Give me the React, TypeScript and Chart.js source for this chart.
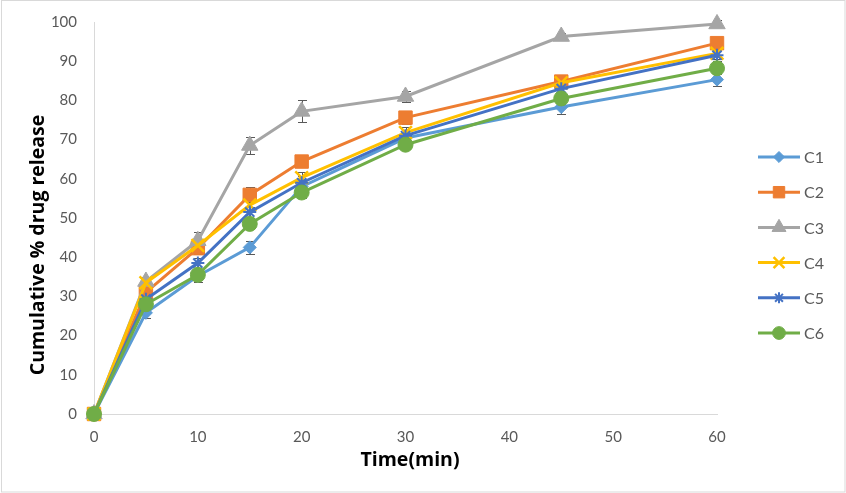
import React, { useEffect, useRef } from "react";
import { Chart, registerables } from "chart.js";
import { drawPoint } from "chart.js/helpers";

Chart.register(...registerables);

const times = [0, 5, 10, 15, 20, 30, 45, 60];
const seriesNames = ["C1", "C2", "C3", "C4", "C5", "C6"];
const c1 = [0, 25.8, 35.2, 42.5, 58, 70.4, 78.3, 85.3];
const c2 = [0, 31, 42.3, 55.9, 64.4, 75.6, 84.8, 94.6];
const c3 = [0, 33.8, 44.2, 68.5, 77.2, 81, 96.3, 99.5];
const c4 = [0, 33.5, 43, 53.3, 60.3, 71.8, 84.5, 92];
const c5 = [0, 29.3, 38.5, 51.5, 59, 71, 83, 91.5];
const c6 = [0, 28, 35.5, 48.5, 56.5, 68.7, 80.5, 88.2];
const e1 = [0, 1.4, 1.4, 1.7, 1.4, 1.4, 1.8, 1.7];
const e2 = [0, 1.4, 1.4, 1.9, 1.4, 1.7, 1.7, 1.4];
const e3 = [0, 1.1, 2.3, 2.1, 2.8, 1.4, 0.9, 0.9];
const e4 = [0, 1, 1, 1.4, 1.4, 1.4, 1.4, 1.4];
const e5 = [0, 1.4, 1.4, 1.4, 1.8, 1.4, 1.4, 1.4];
const e6 = [0, 1, 1.4, 1.4, 1.4, 1, 1.4, 1.4];
const xTicks = [0, 10, 20, 30, 40, 50, 60];
const yTicks = [0, 10, 20, 30, 40, 50, 60, 70, 80, 90, 100];
const xTitle = "Time(min)";
const yTitle = "Cumulative % drug release";

const values = [c1, c2, c3, c4, c5, c6];
const errors = [e1, e2, e3, e4, e5, e6];
const colors = ["#5B9BD5", "#ED7D31", "#A5A5A5", "#FFC000", "#4472C4", "#70AD47"];
const styles: any[] = [
  { pointStyle: "rectRot", radius: 6.5, bw: 1 },
  { pointStyle: "rect", radius: 9.5, bw: 1 },
  { pointStyle: "triangle", radius: 9.5, bw: 1 },
  { pointStyle: "crossRot", radius: 9, bw: 2.5 },
  { pointStyle: "star", radius: 6.5, bw: 2 },
  { pointStyle: "circle", radius: 7.5, bw: 1 },
];

const FONT = "Lato, 'Open Sans', sans-serif";
const TITLE_FONT = "'Open Sans', Lato, sans-serif";
const TEXT = "#595959";

const errorBarPlugin = {
  id: "errorBars",
  beforeDatasetsDraw(chart: any) {
    const ctx = chart.ctx;
    const yScale = chart.scales.y;
    ctx.save();
    ctx.strokeStyle = "#595959";
    ctx.lineWidth = 1;
    chart.data.datasets.forEach((ds: any, i: number) => {
      const meta = chart.getDatasetMeta(i);
      const errs = errors[i];
      meta.data.forEach((pt: any, j: number) => {
        const v = values[i][j];
        const e = errs[j];
        if (!e) return;
        const x = Math.round(pt.x) + 0.5;
        const yTop = Math.round(yScale.getPixelForValue(v + e)) + 0.5;
        const yBot = Math.round(yScale.getPixelForValue(v - e)) + 0.5;
        ctx.beginPath();
        ctx.moveTo(x, yTop);
        ctx.lineTo(x, yBot);
        ctx.moveTo(x - 4.5, yTop);
        ctx.lineTo(x + 4.5, yTop);
        ctx.moveTo(x - 4.5, yBot);
        ctx.lineTo(x + 4.5, yBot);
        ctx.stroke();
      });
    });
    ctx.restore();
  },
};

const legendPlugin = {
  id: "lineLegend",
  afterDraw(chart: any) {
    const ctx = chart.ctx;
    const area = chart.chartArea;
    ctx.save();
    seriesNames.forEach((name, i) => {
      const y = 157 + i * 35.2;
      const x0 = area.right + 41;
      ctx.strokeStyle = colors[i];
      ctx.lineWidth = 3;
      ctx.beginPath();
      ctx.moveTo(x0, y);
      ctx.lineTo(x0 + 42, y);
      ctx.stroke();
      ctx.fillStyle = colors[i];
      ctx.strokeStyle = colors[i];
      ctx.lineWidth = styles[i].bw;
      drawPoint(ctx, { pointStyle: styles[i].pointStyle, radius: styles[i].radius * 0.85, rotation: 0, borderWidth: styles[i].bw }, x0 + 21, y);
      ctx.fillStyle = TEXT;
      ctx.font = `16px ${FONT}`;
      ctx.textBaseline = "middle";
      ctx.textAlign = "left";
      ctx.fillText(name, x0 + 46, y + 1);
    });
    ctx.fillStyle = "#000";
    ctx.font = `bold 19.5px ${TITLE_FONT}`;
    ctx.textAlign = "center";
    ctx.textBaseline = "middle";
    ctx.fillText(xTitle, 410, 460);
    ctx.save();
    ctx.translate(38, 245);
    ctx.rotate(-Math.PI / 2);
    ctx.fillText(yTitle, 0, 0);
    ctx.restore();
    ctx.strokeStyle = "#D9D9D9";
    ctx.lineWidth = 1;
    ctx.strokeRect(1.5, 0.5, chart.width - 2.5, chart.height - 1.5);
    ctx.restore();
  },
};

export default function App() {
  const ref = useRef<HTMLCanvasElement | null>(null);
  useEffect(() => {
    if (!ref.current) return;
    const datasets = seriesNames.map((name, i) => ({
      label: name,
      data: times.map((t, j) => ({ x: t, y: values[i][j] })),
      borderColor: colors[i],
      backgroundColor: colors[i],
      borderWidth: 3,
      pointStyle: styles[i].pointStyle,
      pointRadius: styles[i].radius,
      pointBorderWidth: styles[i].bw,
      pointBackgroundColor: colors[i],
      pointBorderColor: colors[i],
      tension: 0,
      clip: false,
      order: seriesNames.length - 1 - i,
    }));
    const chart = new Chart(ref.current, {
      type: "line",
      data: { datasets },
      options: {
        animation: false,
        responsive: false,
        layout: { padding: { top: 22, right: 129, bottom: 0, left: 0 } },
        plugins: { legend: { display: false }, tooltip: { enabled: false } },
        scales: {
          x: {
            type: "linear",
            min: 0,
            max: 60,
            afterBuildTicks: (s: any) => {
              s.ticks = xTicks.map((v) => ({ value: v }));
            },
            afterFit: (s: any) => {
              s.height = 79;
              s.paddingLeft = 0;
              s.paddingRight = 0;
            },
            grid: { display: false, drawTicks: false },
            border: { display: true, color: "#D9D9D9", width: 1 },
            ticks: { color: TEXT, font: { family: FONT, size: 15 }, padding: 14, maxRotation: 0 },
            title: { display: false },
          },
          y: {
            type: "linear",
            min: 0,
            max: 100,
            afterBuildTicks: (s: any) => {
              s.ticks = yTicks.map((v) => ({ value: v }));
            },
            afterFit: (s: any) => {
              s.width = 94;
              s.paddingTop = 0;
              s.paddingBottom = 0;
            },
            grid: { display: false, drawTicks: false },
            border: { display: true, color: "#D9D9D9", width: 1 },
            ticks: { color: TEXT, font: { family: FONT, size: 15 }, padding: 17 },
            title: { display: false },
          },
        },
      } as any,
      plugins: [errorBarPlugin, legendPlugin],
    });
    return () => chart.destroy();
  }, []);
  return (
    <div style={{ position: "absolute", left: 0, top: 0, width: 846, height: 493, background: "#fff" }}>
      <canvas ref={ref} width={846} height={493} style={{ width: 846, height: 493 }} />
    </div>
  );
}
